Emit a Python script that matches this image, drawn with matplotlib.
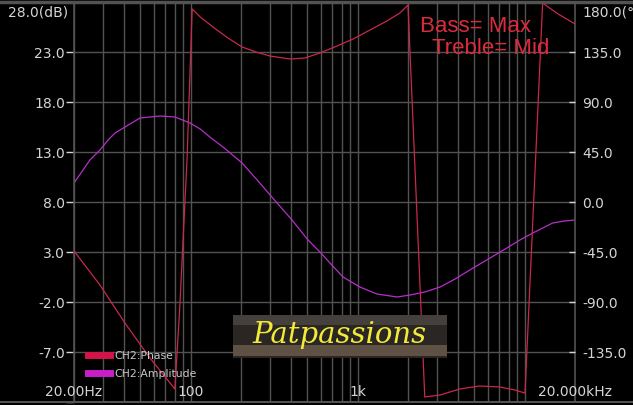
"""
Frequency response plot (amplitude + phase) on a black analyser-style screen.
Saves out.png at 633x405.
"""
import matplotlib
matplotlib.use("Agg")
import matplotlib.pyplot as plt
from matplotlib.patches import Rectangle
from matplotlib.ticker import LogLocator, NullFormatter, FixedLocator
from matplotlib.lines import Line2D

# Amplitude curve (dB)
amp_freq = [20, 24.9, 28.6, 32, 35.2, 40.4, 49.7, 57, 65.4, 80.4, 99, 114,
            130, 156, 203, 250, 306, 404, 504, 594, 682, 816, 1030, 1302,
            1720, 2060, 2520, 3114, 3830, 4900, 6200, 7820, 9360, 11180,
            14700, 17300, 20000]
amp_db = [9.9, 12.2, 13.2, 14.2, 14.9, 15.5, 16.4, 16.5, 16.6, 16.5, 15.9,
          15.3, 14.5, 13.5, 11.9, 10.2, 8.5, 6.2, 4.2, 3.0, 1.9, 0.5, -0.5,
          -1.2, -1.5, -1.3, -1.0, -0.5, 0.3, 1.4, 2.4, 3.4, 4.2, 4.9, 5.9,
          6.1, 6.2]

# Phase curve (degrees, wrapped)
phase_freq = [20, 28.6, 40.4, 57, 80.4, 86, 95, 102, 114, 136, 167, 203,
              246, 298, 394, 482, 594, 752, 938, 1184, 1494, 1788, 2000,
              2520, 3114, 4080, 5360, 7100, 8740, 10040, 12800, 15860, 20000]
phase_deg = [-44.1, -74.7, -109, -140.4, -168.3, -94.5, 37.8, 173.7, 166.5,
             157.5, 147.6, 139.5, 135, 131.4, 128.7, 129.6, 134.1, 140.4,
             146.7, 154.8, 162.9, 170.1, 177.3, -175.5, -173.7, -168.3,
             -165.6, -166.5, -169.2, -172, 179, 169.2, 160.2]

# Axis labels
db_ticks = [23, 18, 13, 8, 3, -2, -7]
deg_ticks = [135, 90, 45, 0, -45, -90, -135]
x_labels = [(20, "20.00Hz"), (100, "100"), (1000, "1k"), (20000, "20.000kHz")]

BG = "black"
GRID = "#525252"
TXT = "#d4d4d4"
PHASE_C = "#c8284c"
AMP_C = "#b530c8"

W, H = 633, 405
fig = plt.figure(figsize=(W / 100, H / 100), dpi=100, facecolor=BG)
ax = fig.add_axes([74 / W, 3 / H, 501 / W, 400 / H], facecolor=BG)

ax.set_xscale("log")
ax.set_xlim(20, 20000)
ax.set_ylim(-12, 28)
ax.xaxis.set_major_locator(FixedLocator([100, 1000, 10000]))
ax.xaxis.set_minor_locator(LogLocator(subs=range(2, 10)))
ax.xaxis.set_major_formatter(NullFormatter())
ax.xaxis.set_minor_formatter(NullFormatter())
ax.tick_params(axis="x", which="both", length=0)

ax.set_yticks(range(-12, 29, 5))
ax.set_yticklabels(["" if v in (28, -12) else f"{v:.1f}" for v in range(-12, 29, 5)])
ax.tick_params(axis="y", length=6, width=1, color=TXT, pad=0.5,
               labelcolor=TXT, labelsize=10)
ax.grid(True, which="both", color=GRID, lw=1)
for s in ax.spines.values():
    s.set_color(GRID)
    s.set_linewidth(1.2)

amp_line, = ax.plot(amp_freq, amp_db, color=AMP_C, lw=0.9, label="CH2:Amplitude")

ax2 = ax.twinx()
ax2.set_ylim(-180, 180)
ax2.set_yticks(deg_ticks)
ax2.set_yticklabels([f"{v:.1f}" for v in deg_ticks])
ax2.tick_params(axis="y", direction="in", length=4, width=1, color=TXT,
                pad=5, labelcolor=TXT, labelsize=10)
for s in ax2.spines.values():
    s.set_visible(False)
phase_line, = ax2.plot(phase_freq, phase_deg, color=PHASE_C, lw=0.9,
                       label="CH2:Phase")

# corner labels and frequency labels
fig.text(68 / W, 1 - 12.5 / H, "28.0(dB)", color=TXT, fontsize=10,
         ha="right", va="center")
fig.text(582 / W, 1 - 12.5 / H, "180.0(°", color=TXT, fontsize=10,
         ha="left", va="center")
for f, lab in x_labels:
    ax.text(f, -10.95, lab, color=TXT, fontsize=10, ha="center", va="center",
            clip_on=False, zorder=5)

# legend
leg = ax2.legend(handles=[phase_line, amp_line], loc="upper left",
                 bbox_to_anchor=(0.028, 0.128), frameon=False, fontsize=7.8,
                 handlelength=2.0, handletextpad=0.45, labelspacing=0.75,
                 borderpad=0, borderaxespad=0)
for h, c in zip(leg.legend_handles, ["#d2144a", "#c81ec8"]):
    h.set_linewidth(5)
    h.set_color(c)
for t in leg.get_texts():
    t.set_color("#c8c8c8")

# setting annotation
ax2.text(0.691, 0.94, "Bass= Max", transform=ax2.transAxes, color="#dc2c3c",
         fontsize=16, family="Liberation Sans", ha="left", va="center")
ax2.text(0.714, 0.883, "Treble= Mid", transform=ax2.transAxes,
         color="#dc2c3c", fontsize=16, family="Liberation Sans",
         ha="left", va="center")

# watermark banner
x0, x1 = (233 - 74) / 501, (447 - 74) / 501
y0, y1 = (402 - 358) / 400, (402 - 315) / 400
ax2.add_patch(Rectangle((x0, y0), x1 - x0, y1 - y0, transform=ax2.transAxes,
                        facecolor="#2a2623", edgecolor="none", zorder=10))
ax2.add_patch(Rectangle((x0, y1 - 0.025), x1 - x0, 0.025,
                        transform=ax2.transAxes, facecolor="#45403b",
                        edgecolor="none", zorder=10))
ax2.add_patch(Rectangle((x0, y0 + 0.004), x1 - x0, 0.028,
                        transform=ax2.transAxes, facecolor="#5f5244",
                        edgecolor="none", zorder=10))
ax2.text((x0 + x1) / 2, (y0 + y1) / 2 + 0.004, "Patpassions",
         transform=ax2.transAxes, color="#f2ea38", fontsize=21,
         family="DejaVu Serif", style="italic", ha="center", va="center",
         zorder=11)

# full-width frame lines at top and bottom
fig.add_artist(Line2D([0, 1], [1 - 1.5 / H, 1 - 1.5 / H], color=GRID, lw=2.5))
fig.add_artist(Line2D([0, 1], [3 / H, 3 / H], color=GRID, lw=1.5))

fig.savefig("out.png", dpi=100, facecolor=BG)
